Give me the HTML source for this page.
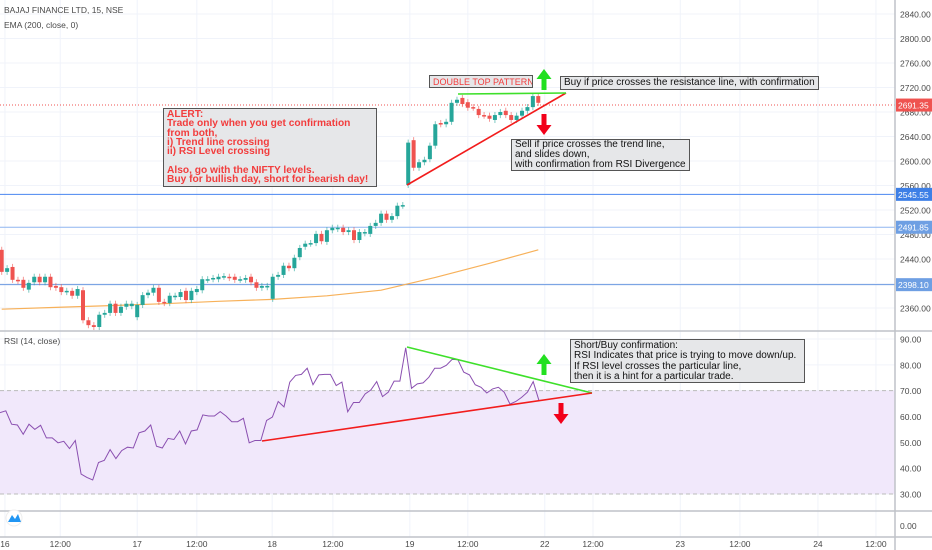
<!DOCTYPE html>
<html><head><meta charset="utf-8">
<style>
html,body{margin:0;padding:0;background:#fff;}
body{width:932px;height:550px;overflow:hidden;font-family:"Liberation Sans",sans-serif;}
svg{display:block}
.note{position:absolute;background:#e6e7e9;border:1px solid #555;font-family:"Liberation Sans",sans-serif;white-space:nowrap;overflow:hidden;}
</style></head>
<body>
<div style="position:relative;width:932px;height:550px">
<svg id="chart" width="932" height="550"></svg>

<div class="note" style="left:163px;top:108px;width:214px;height:79px;color:#f23d3d;font-weight:bold;font-size:10.2px;line-height:9.3px;padding:1px 0 0 3px;box-sizing:border-box;">ALERT:<br>Trade only when you get confirmation<br>from both,<br>i) Trend line crossing<br>ii) RSI Level crossing<br><br>Also, go with the NIFTY levels.<br>Buy for bullish day, short for bearish day!</div>
<div class="note" style="left:429px;top:75px;width:104px;height:13px;color:#f23d3d;font-size:9px;line-height:12px;padding-left:3px;box-sizing:border-box;">DOUBLE TOP PATTERN</div>
<div class="note" style="left:560px;top:76px;width:259px;height:14px;color:#111;font-size:10px;line-height:12px;padding-left:3px;box-sizing:border-box;">Buy if price crosses the resistance line, with confirmation</div>
<div class="note" style="left:511px;top:139px;width:179px;height:32px;color:#111;font-size:10px;line-height:10.2px;padding:0 0 0 3px;box-sizing:border-box;">Sell if price crosses the trend line,<br>and slides down,<br>with confirmation from RSI Divergence</div>
<div class="note" style="left:570px;top:339px;width:235px;height:44px;color:#111;font-size:10px;line-height:10.4px;padding:1px 0 0 3px;box-sizing:border-box;">Short/Buy confirmation:<br>RSI Indicates that price is trying to move down/up.<br>If RSI level crosses the particular line,<br>then it is a hint for a particular trade.</div>
</div>
<script>
// ---- data ----
const opens=[2455,2419,2427,2406,2406,2390,2402,2411,2402,2411,2396,2394,2386,2388,2380,2389,2340,2332,2329,2349,2352,2367,2352,2362,2363,2345,2365,2381,2385,2393,2370,2368,2378,2378,2388,2373,2386,2389,2406,2407,2407,2411,2411,2411,2406,2406,2411,2402,2393,2394,2375,2411,2414,2429,2425,2443,2460,2465,2466,2481,2468,2487,2489,2491,2484,2487,2471,2482,2481,2494,2499,2514,2504,2510,2527,2561,2634,2589,2598,2603,2625,2662,2660,2664,2695,2703,2696,2688,2685,2675,2674,2667,2675,2682,2675,2667,2674,2682,2688,2706];
const closes=[2419,2425,2406,2404,2393,2401,2411,2402,2411,2394,2393,2386,2388,2380,2391,2340,2332,2329,2349,2352,2367,2352,2362,2367,2367,2365,2381,2385,2393,2370,2368,2380,2380,2386,2373,2388,2391,2407,2407,2409,2411,2412,2409,2406,2407,2409,2402,2393,2396,2396,2411,2414,2429,2425,2442,2458,2465,2466,2481,2469,2487,2491,2491,2484,2487,2471,2484,2484,2494,2499,2514,2504,2510,2527,2528,2630,2589,2598,2602,2625,2660,2660,2664,2695,2700,2693,2687,2687,2675,2674,2669,2675,2680,2675,2667,2674,2682,2688,2706,2695];
const emaIdx=[0,10,20,30,40,50,60,70,80,90,99];
const emaVals=[2358,2361,2364,2367,2371,2374,2380,2389,2410,2433,2455];
const rsi=[61.5,62.2,57,56.7,53.1,57,55,56.6,51.7,51.7,49.8,50.4,47.6,50.7,37.7,36.4,35.4,42.2,43,47.2,43.7,46.8,48.1,47.8,53.7,54.4,56.7,48.5,47.8,51.5,51.1,54.4,49.4,54.4,54.8,60.6,60.2,60.2,61.9,60.2,58,58,59.3,49.8,50.7,50.7,58.5,59.8,65.8,63.7,73.3,75.9,76.3,78.7,72.3,76.1,76.3,76.3,72,73.3,61.8,65.4,65.4,68.7,70.3,73.5,67.7,69.4,73.7,73.7,86.6,70.9,72.6,73,75.2,78.7,78.7,79.8,82.1,82,77.2,76.1,72.3,71.3,69.1,70.7,71.3,69.4,64.8,65.8,67.4,69.4,73.5,66.1];
const priceTicks=[2840,2800,2760,2720,2680,2640,2600,2560,2520,2480,2440,2400,2360];
const rsiTicks=[90,80,70,60,50,40,30];
const timePos=[0.6,10.8,25,36,49.9,61.1,75.3,86,100.2,109.1,125.2,136.2,150.6,161.3];
const timeLabels=["16","12:00","17","12:00","18","12:00","19","12:00","22","12:00","23","12:00","24","12:00"];
const levels=[2545.55,2491.85,2398.10];
const lastPrice=2691.35;

// ---- scales ----
const AX=895;
const py=p=>14+(2840-p)*0.6125;
const cx=i=>1.7+i*5.42;
const ry=v=>339+(90-v)*2.583;
const rx=i=>i*(539/(rsi.length-1));
const NS="http://www.w3.org/2000/svg";
const svg=document.getElementById('chart');
function mk(tag,attrs,parent){const e=document.createElementNS(NS,tag);for(const k in attrs)e.setAttribute(k,attrs[k]);(parent||svg).appendChild(e);return e;}

// grid
priceTicks.forEach(t=>{const l=mk('line',{x1:0,x2:AX,y1:py(t),y2:py(t),stroke:'#f0f3fa'});

});
rsiTicks.forEach(t=>{const l=mk('line',{x1:0,x2:AX,y1:ry(t),y2:ry(t),stroke:'#f0f3fa'});

});
timePos.forEach(t=>{const l=mk('line',{x1:cx(t),x2:cx(t),y1:0,y2:537,stroke:'#f0f3fa'});

});

// RSI band
const band=mk('rect',{x:0,y:ry(70),width:AX,height:ry(30)-ry(70),fill:'#f1e8fb'});


[70,30].forEach(v=>{const l=mk('line',{x1:0,x2:AX,y1:ry(v),y2:ry(v),stroke:'#bbb','stroke-dasharray':'4,3'});

});

// level lines
const lc=['#4a86f0','#8fb6f0','#6a98e0'];
levels.forEach((v,i)=>{const l=mk('line',{x1:0,x2:AX,y1:py(v),y2:py(v),stroke:lc[i],'stroke-width':1});

});
const lp=mk('line',{x1:0,x2:AX,y1:py(lastPrice),y2:py(lastPrice),stroke:'#ef5350','stroke-dasharray':'1,2'});



// EMA
let d='';emaIdx.forEach((k,i)=>{d+=(i?'L':'M')+cx(k).toFixed(1)+','+py(emaVals[i]).toFixed(1);});
const ema=mk('path',{d:d,fill:'none',stroke:'#f7b15a','stroke-width':1.2});



// candles
opens.forEach((o,i)=>{const c=closes[i];const up=c>=o;const col=up?'#26a69a':'#ef5350';
const x=cx(i);const hi=Math.max(o,c)+5,lo=Math.min(o,c)-5;
const g=mk('g',{});


mk('line',{x1:x,x2:x,y1:py(hi),y2:py(lo),stroke:col,'stroke-width':1,opacity:0.6},g);
const top=py(Math.max(o,c)),h=Math.max(1.5,py(Math.min(o,c))-top);
mk('rect',{x:x-2,y:top,width:4,height:h,fill:col},g);});

// RSI line
d='';rsi.forEach((v,i)=>{d+=(i?'L':'M')+rx(i).toFixed(1)+','+ry(v).toFixed(1);});
const rl=mk('path',{d:d,fill:'none',stroke:'#8a4fb0','stroke-width':1});



// drawings
function ln(x1,y1,x2,y2,col,name){const l=mk('line',{x1,y1,x2,y2,stroke:col,'stroke-width':1.6});

}
ln(407,185,566,93,'#f21c1c','price-trendline');
ln(458,94,566,93,'#3ee02a','resistance-line');
ln(407,347,592,393,'#3ee02a','rsi-resistance-line');
ln(262,441,592,393,'#f21c1c','rsi-support-line');
function arrow(x,y,up,col,name){const s=up?-1:1;
const p=mk('path',{d:`M${x-2.5},${y} L${x-2.5},${y+s*11} L${x-7.5},${y+s*11} L${x},${y+s*21} L${x+7.5},${y+s*11} L${x+2.5},${y+s*11} L${x+2.5},${y} Z`,fill:col});

}
arrow(544,90,true,'#22e020','up-arrow');
arrow(544,114,false,'#f2001a','down-arrow');
arrow(544,375,true,'#22e020','rsi-up-arrow');
arrow(561,403,false,'#f2001a','rsi-down-arrow');

// pane separators & axis
[331,511,537].forEach(y=>{const l=mk('line',{x1:0,x2:932,y1:y,y2:y,stroke:'#bfc2c8','stroke-width':1.5});

});
const axl=mk('line',{x1:AX,x2:AX,y1:0,y2:550,stroke:'#bfc2c8','stroke-width':1.5});



function txt(x,y,s,opt){const t=mk('text',Object.assign({x,y,'font-size':'9',fill:'#4a4a4a','font-family':'"Liberation Sans",sans-serif'},opt||{}));t.textContent=s;return t;}
priceTicks.forEach(t=>{const e=txt(900,py(t)+3.5,t.toFixed(2),{'font-size':'8.5'});

});
rsiTicks.forEach(t=>{const e=txt(900,ry(t)+3.5,t.toFixed(2),{'font-size':'8.5'});

});
const z=txt(900,529,'0.00',{'font-size':'8.5'});


timePos.forEach((t,i)=>{const e=txt(cx(t),547,timeLabels[i],{'font-size':'8.5','text-anchor':'middle'});

});

// axis badges
function badge(v,col,name){const g=mk('g',{});


mk('rect',{x:896,y:py(v)-6.5,width:36,height:13,fill:col},g);
const t=txt(898,py(v)+3.5,v.toFixed(2),{'font-size':'8.5',fill:'#fff'});g.appendChild(t);}
badge(lastPrice,'#ef5350','last-price-badge');
badge(levels[0],'#3d7fe6','level-badge-2545');
badge(levels[1],'#6e9fe3','level-badge-2491');
badge(levels[2],'#6e9fe3','level-badge-2398');

// legends
const h1=txt(4,13,'BAJAJ FINANCE LTD, 15, NSE',{'font-size':'8.5'});


const h2=txt(4,28,'EMA (200, close, 0)',{'font-size':'8.5'});


const h3=txt(4,344,'RSI (14, close)',{'font-size':'8.5'});



// logo
const lg=mk('g',{});


mk('circle',{cx:14,cy:518,r:8,fill:'#fff',stroke:'#eee'},lg);
mk('path',{d:'M8,522 L12,515 L15,519 L18,514 L21,522 Z',fill:'#2196f3'},lg);
</script>
</body></html>
